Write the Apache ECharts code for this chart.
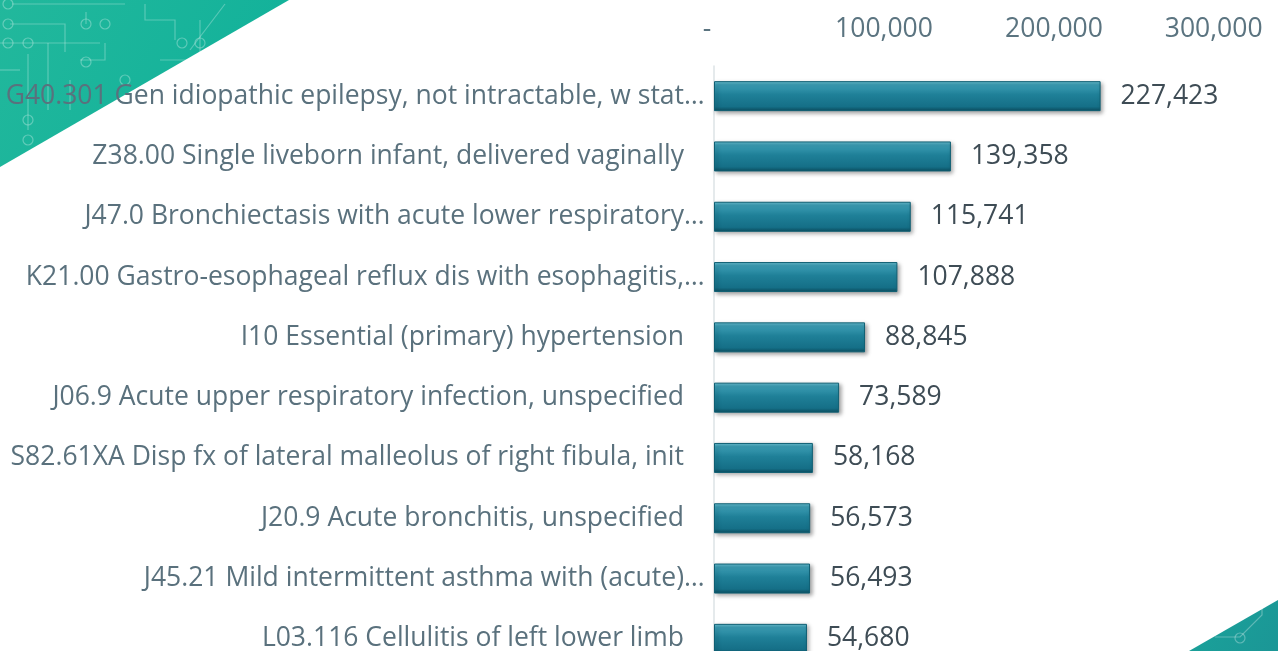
<!DOCTYPE html>
<html>
<head>
<meta charset="utf-8">
<script src="https://cdn.jsdelivr.net/npm/echarts@6/dist/echarts.min.js"></script>
<style>
html,body{margin:0;padding:0;background:#fff;}
#chart{width:1278px;height:651px;}
</style>
</head>
<body>
<div id="chart"></div>
<script>
const categories = [
  "G40.301 Gen idiopathic epilepsy, not intractable, w stat…",
  "Z38.00 Single liveborn infant, delivered vaginally",
  "J47.0 Bronchiectasis with acute lower respiratory…",
  "K21.00 Gastro-esophageal reflux dis with esophagitis,…",
  "I10 Essential (primary) hypertension",
  "J06.9 Acute upper respiratory infection, unspecified",
  "S82.61XA Disp fx of lateral malleolus of right fibula, init",
  "J20.9 Acute bronchitis, unspecified",
  "J45.21 Mild intermittent asthma with (acute)…",
  "L03.116 Cellulitis of left lower limb"
];
const values = [227423, 139358, 115741, 107888, 88845, 73589, 58168, 56573, 56493, 54680];
const tickValues = [0, 100000, 200000, 300000];

const FONT = "'Open Sans', sans-serif";
const FS = 26.5;
const fmt = v => {
  if (v === 0) return '-  ';
  if (v === tickValues[tickValues.length - 1]) return v.toLocaleString('en-US') + '   ';
  return v.toLocaleString('en-US');
};

const chart = echarts.init(document.getElementById('chart'));

// circuit decoration (top-left)
const deco = [];
const lineStyle = {stroke: 'rgba(255,255,255,0.28)', lineWidth: 1.2, fill: null};
const polys = [
  [[12,4],[125,4]],
  [[10,24],[65,24],[65,52]],
  [[0,43],[100,43]],
  [[48,43],[48,110]],
  [[105,43],[105,60],[80,60]],
  [[28,54],[28,130]],
  [[86,24],[86,12]],
  [[145,4],[145,20],[175,20],[175,40]],
  [[160,60],[200,60],[200,20]],
  [[225,4],[190,50]],
  [[70,80],[70,110]],
  [[0,70],[20,70]]
];
polys.forEach(p => deco.push({type:'polyline', shape:{points:p}, style:lineStyle, silent:true, z:-9}));
const circles = [[8,4,5],[8,24,5],[8,43,5],[28,43,5],[86,24,5],[105,24,5],[182,43,5],[200,43,5],[86,62,5],[125,80,5],[28,120,5],[28,140,5]];
circles.forEach(c => deco.push({type:'circle', shape:{cx:c[0], cy:c[1], r:c[2]}, style:{stroke:'rgba(255,255,255,0.3)', lineWidth:1.2, fill:null}, silent:true, z:-9}));

const option = {
  backgroundColor: '#ffffff',
  animation: false,
  graphic: [
    {
      type: 'polygon', silent: true, z: -10,
      shape: {points: [[0,0],[289,0],[0,167]]},
      style: {fill: new echarts.graphic.LinearGradient(0,0,1,1,[{offset:0,color:'#22b89c'},{offset:1,color:'#0fb09a'}])}
    },
    ...deco,
    {
      type: 'polygon', silent: true, z: -10,
      shape: {points: [[1278,600],[1278,651],[1189,651]]},
      style: {fill: new echarts.graphic.LinearGradient(0,0,1,1,[{offset:0,color:'#1aa39a'},{offset:1,color:'#1b9696'}])}
    },
    {type:'polyline', silent:true, z:-9, shape:{points:[[1215,637],[1240,637],[1262,615],[1262,605]]}, style:{stroke:'rgba(255,255,255,0.3)', lineWidth:1.2, fill:null}},
    {type:'circle', silent:true, z:-9, shape:{cx:1240, cy:638, r:5}, style:{stroke:'rgba(255,255,255,0.3)', lineWidth:1.2, fill:null}}
  ],
  grid: {left: 714, width: 510, top: 66, height: 603, containLabel: false, outerBoundsMode: 'none'},
  xAxis: {
    type: 'value',
    position: 'top',
    min: 0, max: 300000, interval: 100000,
    axisLine: {show: false},
    axisTick: {show: false},
    splitLine: {show: false},
    axisLabel: {
      formatter: fmt,
      color: '#5b7480',
      fontFamily: FONT,
      fontSize: FS,
      margin: 23
    }
  },
  yAxis: {
    type: 'category',
    data: categories,
    inverse: true,
    axisTick: {show: false},
    axisLine: {show: true, lineStyle: {color: '#dde3e6', width: 1.5}},
    axisLabel: {
      margin: 30,
      formatter: function (v) {
        if (v.endsWith('…')) return '{t|' + v.slice(0, -1) + '}{e|…}';
        return '{t|' + v + '}';
      },
      rich: {
        t: {color: '#5a717d', fontFamily: FONT, fontSize: FS, align: 'left'},
        e: {color: '#5a717d', fontFamily: FONT, fontSize: FS, width: 0, align: 'left'}
      }
    }
  },
  series: [{
    type: 'bar',
    data: values,
    barWidth: 30,
    itemStyle: {
      color: new echarts.graphic.LinearGradient(0,0,0,1,[
        {offset:0, color:'#6cc2d4'},
        {offset:0.12, color:'#3c9db4'},
        {offset:0.45, color:'#1f8098'},
        {offset:0.85, color:'#156f87'},
        {offset:1, color:'#0c4e60'}
      ]),
      borderColor: '#0f5f73',
      borderWidth: 1,
      shadowColor: 'rgba(0,0,0,0.35)',
      shadowBlur: 4,
      shadowOffsetX: 2,
      shadowOffsetY: 2
    },
    label: {
      show: true,
      position: 'right',
      distance: 20,
      formatter: p => p.value.toLocaleString('en-US'),
      color: '#3e4c55',
      fontFamily: FONT,
      fontSize: FS
    }
  }]
};
chart.setOption(option);
</script>
</body>
</html>
